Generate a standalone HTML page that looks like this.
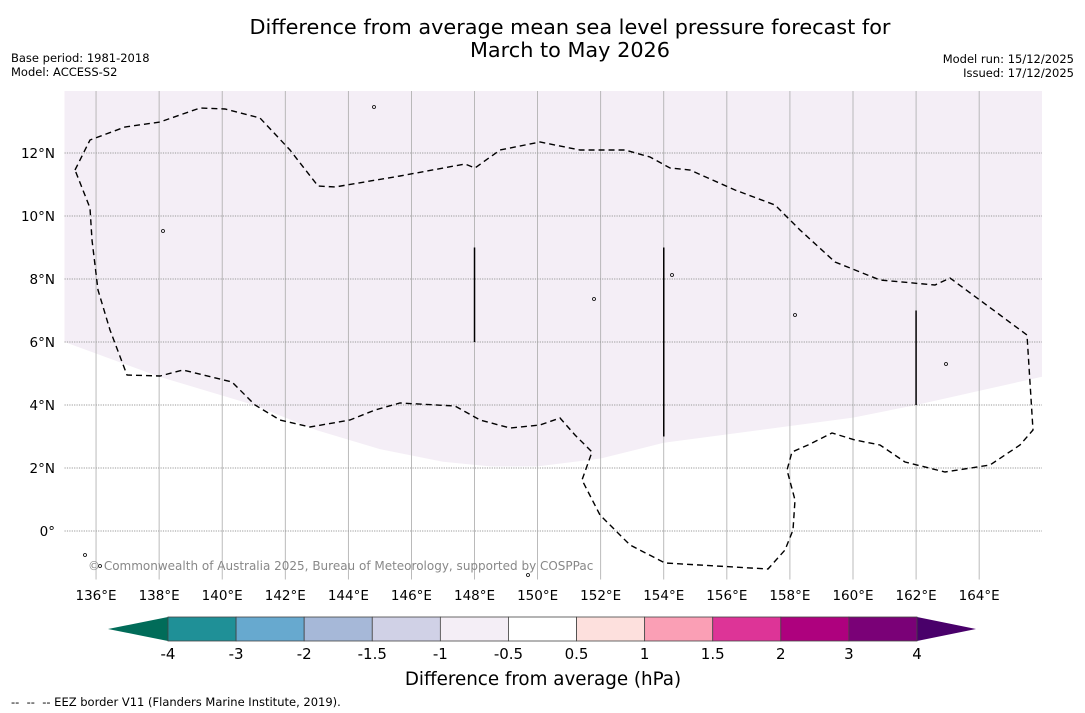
<!DOCTYPE html>
<html><head><meta charset="utf-8">
<style>
body{margin:0;background:#fff;width:1085px;height:713px;overflow:hidden;font-family:"DejaVu Sans","Liberation Sans",sans-serif;}
svg{display:block}
</style></head>
<body>
<svg id="chart" width="1085" height="713" xmlns="http://www.w3.org/2000/svg">
<text x="570" y="34" text-anchor="middle" font-size="20.8" fill="#000">Difference from average mean sea level pressure forecast for</text>
<text x="570" y="57" text-anchor="middle" font-size="20.8" fill="#000">March to May 2026</text>
<text x="11" y="62" font-size="11.5">Base period: 1981-2018</text>
<text x="11" y="76" font-size="11.5">Model: ACCESS-S2</text>
<text x="1074" y="63" font-size="11.5" text-anchor="end">Model run: 15/12/2025</text>
<text x="1074" y="77" font-size="11.5" text-anchor="end">Issued: 17/12/2025</text>
<g id="map"></g>
<g id="cbar"></g>
<text x="543" y="685" text-anchor="middle" font-size="18.3">Difference from average (hPa)</text>
<text x="11" y="706" font-size="11.5" xml:space="preserve" style="white-space:pre">--  --  -- EEZ border V11 (Flanders Marine Institute, 2019).</text>
</svg>
<script>
const lonTicks=[136,138,140,142,144,146,148,150,152,154,156,158,160,162,164];
const latTicks=[0,2,4,6,8,10,12];
const shadeLon=[135,138,141,143,145,147,148.5,150,152,154,160,162,166];
const shadeLat=[6,4.9,4.0,3.2,2.6,2.2,2.05,2.05,2.3,2.8,3.6,4,4.9];
const eezPx=[[75,170],[90,140],[125,127],[160,122],[200,108],[225,109],[260,118],[290,150],[318,186],[335,187],[400,176],[465,164],[475,168],[500,150],[540,142],[580,150],[625,150],[650,157],[670,168],[690,170],[735,190],[775,205],[800,230],[835,262],[880,280],[935,285],[950,278],[1000,315],[1027,335],[1033,430],[1020,445],[990,465],[945,472],[905,462],[880,445],[855,440],[832,433],[808,445],[792,452],[787,470],[795,500],[793,530],[785,550],[768,569],[665,563],[630,545],[600,515],[582,480],[592,452],[575,435],[560,418],[540,425],[510,428],[480,420],[455,406],[400,403],[375,410],[350,420],[310,427],[280,420],[255,405],[232,382],[183,370],[160,376],[127,375],[110,330],[98,290],[92,240],[90,208],[75,170]];
const segLon=[148,154,162];
const segLat0=[9,9,7];
const segLat1=[6,3,4];
const cbLevels=[-4,-3,-2,-1.5,-1,-0.5,0.5,1,1.5,2,3,4];
const cbColors=["#1f9097","#67a9cf","#a6b8d8","#d0d1e6","#f4eef6","#ffffff","#fde0dd","#fa9fb5","#dd3497","#ae017e","#7a0177"];
const NS="http://www.w3.org/2000/svg";
const X0=64.5,Y0=91,Y1=579.5,XR=1042;
const xs=lon=>X0+(lon-135)*31.54;
const ys=lat=>531-lat*31.5;
function mk(t,a,p){const e=document.createElementNS(NS,t);for(const k in a)e.setAttribute(k,a[k]);p.appendChild(e);return e;}
const map=document.getElementById('map');
const cp=mk('clipPath',{id:'clip'},map);mk('rect',{x:X0,y:Y0,width:XR-X0,height:Y1-Y0},cp);
const g=mk('g',{'clip-path':'url(#clip)'},map);
let d=`M${X0},${Y0} L${XR},${Y0} `;
for(let i=shadeLon.length-1;i>=0;i--)d+=`L${xs(shadeLon[i])},${ys(shadeLat[i])} `;
d+='Z';
const sh=mk('path',{d:d,fill:'#f4eef6'},g);


lonTicks.forEach(l=>{const x=xs(l);
 const ln=mk('line',{x1:x,x2:x,y1:Y0,y2:Y1,stroke:'#aaa','stroke-width':0.8},g);
 
 const t=mk('text',{x:x,y:600,'text-anchor':'middle','font-size':13.5},map);t.textContent=l+'°E';
 });
latTicks.forEach(l=>{const y=ys(l);
 const ln=mk('line',{x1:X0,x2:XR,y1:y,y2:y,stroke:'#999','stroke-width':0.9,'stroke-dasharray':'1.2,1.2'},g);
 
 const t=mk('text',{x:55,y:y+5,'text-anchor':'end','font-size':13.5},map);t.textContent=l===0?'0°':l+'°N';
 });
const eez=mk('polyline',{points:eezPx.map(p=>p.join(',')).join(' '),fill:'none',stroke:'#000','stroke-width':1.4,'stroke-dasharray':'6,4'},g);

segLon.forEach((l,i)=>{const s=mk('line',{x1:xs(l),x2:xs(l),y1:ys(segLat0[i]),y2:ys(segLat1[i]),stroke:'#000','stroke-width':1.5},g);
 });
[[374,107],[163,231],[795,315],[594,299],[946,364],[85,555],[100,566],[528,575],[672,275]].forEach(p=>{const c=mk('circle',{cx:p[0],cy:p[1],r:1.5,fill:'none',stroke:'#000','stroke-width':0.8},g);
 });
const cr=mk('text',{x:88,y:570,'font-size':12,fill:'#888'},map);cr.textContent='© Commonwealth of Australia 2025, Bureau of Meteorology, supported by COSPPac';

const cb=document.getElementById('cbar');
const CX0=168,CX1=917,CY=617,CH=24,n=cbColors.length,w=(CX1-CX0)/n;
const lt=mk('polygon',{points:`${CX0},${CY} ${108},${CY+CH/2} ${CX0},${CY+CH}`,fill:'#016c59'},cb);

const rt=mk('polygon',{points:`${CX1},${CY} ${976},${CY+CH/2} ${CX1},${CY+CH}`,fill:'#49006a'},cb);

cbColors.forEach((c,i)=>{const r=mk('rect',{x:CX0+i*w,y:CY,width:w,height:CH,fill:c,stroke:'#444','stroke-width':0.8},cb);
 });
cbLevels.forEach((v,i)=>{const t=mk('text',{x:CX0+i*w,y:659,'text-anchor':'middle','font-size':15},cb);t.textContent=v;
 });
</script>
</body></html>
